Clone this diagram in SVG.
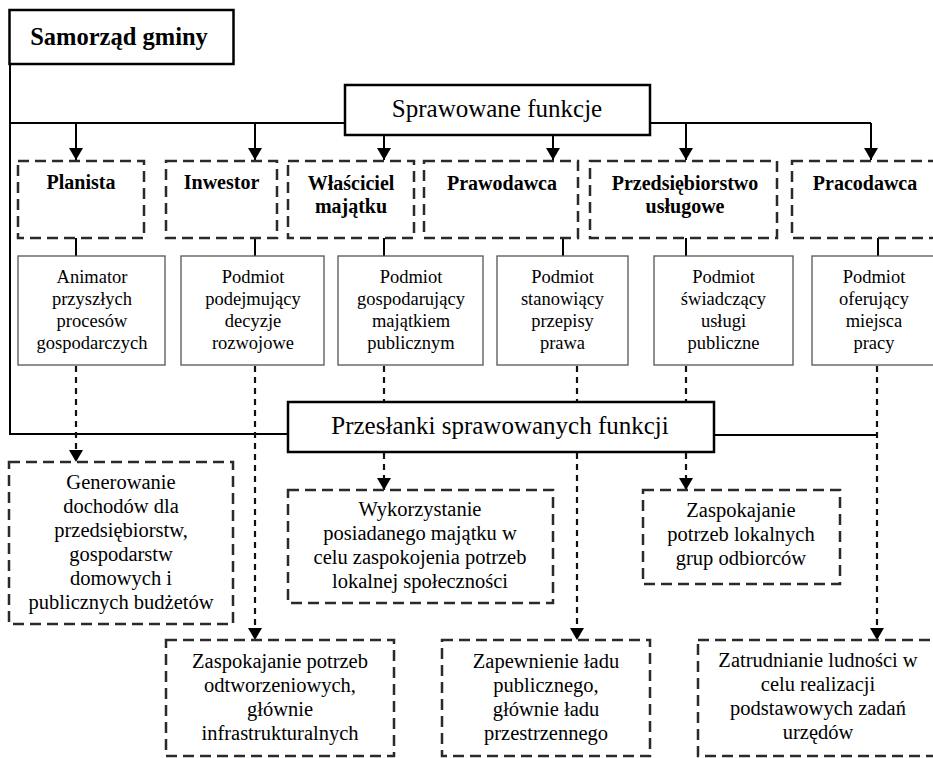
<svg xmlns="http://www.w3.org/2000/svg" width="933" height="758" viewBox="0 0 933 758" font-family="'Liberation Serif', 'Times New Roman', Tinos, 'DejaVu Serif', serif">
<defs>
<style>
text{font-family:'Liberation Serif','Times New Roman',Tinos,'DejaVu Serif',serif;fill:#000;text-anchor:middle}
.title{font-size:25px}
.main{font-size:24.5px;font-weight:bold}
.fn{font-size:20px;font-weight:bold}
.desc{font-size:18.5px}
.res{font-size:20.5px}
.thick{fill:#fff;stroke:#000;stroke-width:2.5}
.dbox{fill:#fff;stroke:#2a2a2a;stroke-width:2.5;stroke-dasharray:11 6}
.sbox{fill:#fff;stroke:#555;stroke-width:1.3}
.ln{fill:none;stroke:#000;stroke-width:2}
.dl{fill:none;stroke:#111;stroke-width:2.2;stroke-dasharray:6 5}
</style>
<marker id="ah" viewBox="0 0 12 14" refX="12" refY="7" markerWidth="12" markerHeight="14" markerUnits="userSpaceOnUse" orient="auto">
<path d="M0,0 L12,7 L0,14 z" fill="#000"/>
</marker>
</defs>

<g id="connectors">
<path class="ln" d="M10,64 V434 H288"/>
<path class="ln" d="M10,123 H345"/>
<path class="ln" d="M650,123 H871"/>
<path class="ln" d="M714,435 H877"/>
<path class="ln" d="M76,123 V160" marker-end="url(#ah)"/>
<path class="ln" d="M255,123 V160" marker-end="url(#ah)"/>
<path class="ln" d="M384,135 V160" marker-end="url(#ah)"/>
<path class="ln" d="M553,135 V160" marker-end="url(#ah)"/>
<path class="ln" d="M686,123 V160" marker-end="url(#ah)"/>
<path class="ln" d="M871,123 V160" marker-end="url(#ah)"/>
<path class="ln" d="M76,238 V256"/>
<path class="ln" d="M255,238 V256"/>
<path class="ln" d="M384,238 V256"/>
<path class="ln" d="M563,238 V256"/>
<path class="ln" d="M686,238 V256"/>
<path class="ln" d="M878,238 V256"/>
<path class="dl" d="M76,366 V462" marker-end="url(#ah)"/>
<path class="dl" d="M255,366 V640" marker-end="url(#ah)"/>
<path class="dl" d="M384,366 V402"/>
<path class="dl" d="M577,366 V402"/>
<path class="dl" d="M686,366 V402"/>
<path class="dl" d="M384,453 V490" marker-end="url(#ah)"/>
<path class="dl" d="M577,453 V640" marker-end="url(#ah)"/>
<path class="dl" d="M686,453 V490" marker-end="url(#ah)"/>
<path class="dl" d="M877,366 V640" marker-end="url(#ah)"/>
</g>

<g id="samorzad">
<rect class="thick" x="9.5" y="10" width="224" height="54"/>
<text class="main" x="119" y="45">Samorząd gminy</text>
</g>

<g id="sprawowane">
<rect class="thick" x="345" y="85" width="305" height="50"/>
<text class="title" x="497" y="117">Sprawowane funkcje</text>
</g>

<g id="przeslanki">
<rect class="thick" x="288" y="402" width="426" height="50"/>
<text class="title" x="500" y="434">Przesłanki sprawowanych funkcji</text>
</g>

<g id="f-planista">
<rect class="dbox" x="18" y="161" width="126" height="77"/>
<text class="fn" x="81" y="189">Planista</text>
</g>
<g id="f-inwestor">
<rect class="dbox" x="166" y="161" width="111" height="77"/>
<text class="fn" x="221.5" y="189">Inwestor</text>
</g>
<g id="f-wlasciciel">
<rect class="dbox" x="288" y="161" width="126" height="77"/>
<text class="fn" x="351" y="190">Właściciel</text>
<text class="fn" x="351" y="213">majątku</text>
</g>
<g id="f-prawodawca">
<rect class="dbox" x="424" y="161" width="154" height="77"/>
<text class="fn" x="502" y="190">Prawodawca</text>
</g>
<g id="f-przedsiebiorstwo">
<rect class="dbox" x="590" y="161" width="187" height="77"/>
<text class="fn" x="685" y="190">Przedsiębiorstwo</text>
<text class="fn" x="685" y="213">usługowe</text>
</g>
<g id="f-pracodawca">
<rect class="dbox" x="792" y="161" width="146" height="77"/>
<text class="fn" x="865" y="190">Pracodawca</text>
</g>

<g id="d-animator">
<rect class="sbox" x="18" y="256" width="147" height="109"/>
<text class="desc" x="92" y="283">Animator</text>
<text class="desc" x="92" y="305">przyszłych</text>
<text class="desc" x="92" y="327">procesów</text>
<text class="desc" x="92" y="349">gospodarczych</text>
</g>
<g id="d-podejmujacy">
<rect class="sbox" x="181" y="256" width="143" height="109"/>
<text class="desc" x="253" y="283">Podmiot</text>
<text class="desc" x="253" y="305">podejmujący</text>
<text class="desc" x="253" y="327">decyzje</text>
<text class="desc" x="253" y="349">rozwojowe</text>
</g>
<g id="d-gospodarujacy">
<rect class="sbox" x="338" y="256" width="145" height="109"/>
<text class="desc" x="411" y="283">Podmiot</text>
<text class="desc" x="411" y="305">gospodarujący</text>
<text class="desc" x="411" y="327">majątkiem</text>
<text class="desc" x="411" y="349">publicznym</text>
</g>
<g id="d-stanowiacy">
<rect class="sbox" x="497" y="256" width="131" height="109"/>
<text class="desc" x="562.5" y="283">Podmiot</text>
<text class="desc" x="562.5" y="305">stanowiący</text>
<text class="desc" x="562.5" y="327">przepisy</text>
<text class="desc" x="562.5" y="349">prawa</text>
</g>
<g id="d-swiadczacy">
<rect class="sbox" x="654" y="256" width="139" height="109"/>
<text class="desc" x="723.5" y="283">Podmiot</text>
<text class="desc" x="723.5" y="305">świadczący</text>
<text class="desc" x="723.5" y="327">usługi</text>
<text class="desc" x="723.5" y="349">publiczne</text>
</g>
<g id="d-oferujacy">
<rect class="sbox" x="812" y="256" width="125" height="109"/>
<text class="desc" x="874" y="283">Podmiot</text>
<text class="desc" x="874" y="305">oferujący</text>
<text class="desc" x="874" y="327">miejsca</text>
<text class="desc" x="874" y="349">pracy</text>
</g>

<g id="r-generowanie">
<rect class="dbox" x="9" y="462" width="224" height="162"/>
<text class="res" x="121" y="489">Generowanie</text>
<text class="res" x="121" y="513">dochodów dla</text>
<text class="res" x="121" y="537">przedsiębiorstw,</text>
<text class="res" x="121" y="561">gospodarstw</text>
<text class="res" x="121" y="585">domowych i</text>
<text class="res" x="121" y="609">publicznych budżetów</text>
</g>
<g id="r-wykorzystanie">
<rect class="dbox" x="288" y="490" width="265" height="113"/>
<text class="res" x="420" y="516">Wykorzystanie</text>
<text class="res" x="420" y="540">posiadanego majątku w</text>
<text class="res" x="420" y="564">celu zaspokojenia potrzeb</text>
<text class="res" x="420" y="588">lokalnej społeczności</text>
</g>
<g id="r-lokalnych">
<rect class="dbox" x="643" y="490" width="197" height="94"/>
<text class="res" x="741" y="517">Zaspokajanie</text>
<text class="res" x="741" y="541">potrzeb lokalnych</text>
<text class="res" x="741" y="565">grup odbiorców</text>
</g>
<g id="r-odtworzeniowych">
<rect class="dbox" x="166" y="640" width="228" height="116"/>
<text class="res" x="280" y="668">Zaspokajanie potrzeb</text>
<text class="res" x="280" y="692">odtworzeniowych,</text>
<text class="res" x="280" y="716">głównie</text>
<text class="res" x="280" y="740">infrastrukturalnych</text>
</g>
<g id="r-zapewnienie">
<rect class="dbox" x="442" y="640" width="208" height="116"/>
<text class="res" x="546" y="668">Zapewnienie ładu</text>
<text class="res" x="546" y="692">publicznego,</text>
<text class="res" x="546" y="716">głównie ładu</text>
<text class="res" x="546" y="740">przestrzennego</text>
</g>
<g id="r-zatrudnianie">
<rect class="dbox" x="698" y="640" width="240" height="116"/>
<text class="res" x="818" y="667">Zatrudnianie ludności w</text>
<text class="res" x="818" y="691">celu realizacji</text>
<text class="res" x="818" y="715">podstawowych zadań</text>
<text class="res" x="818" y="739">urzędów</text>
</g>
</svg>
